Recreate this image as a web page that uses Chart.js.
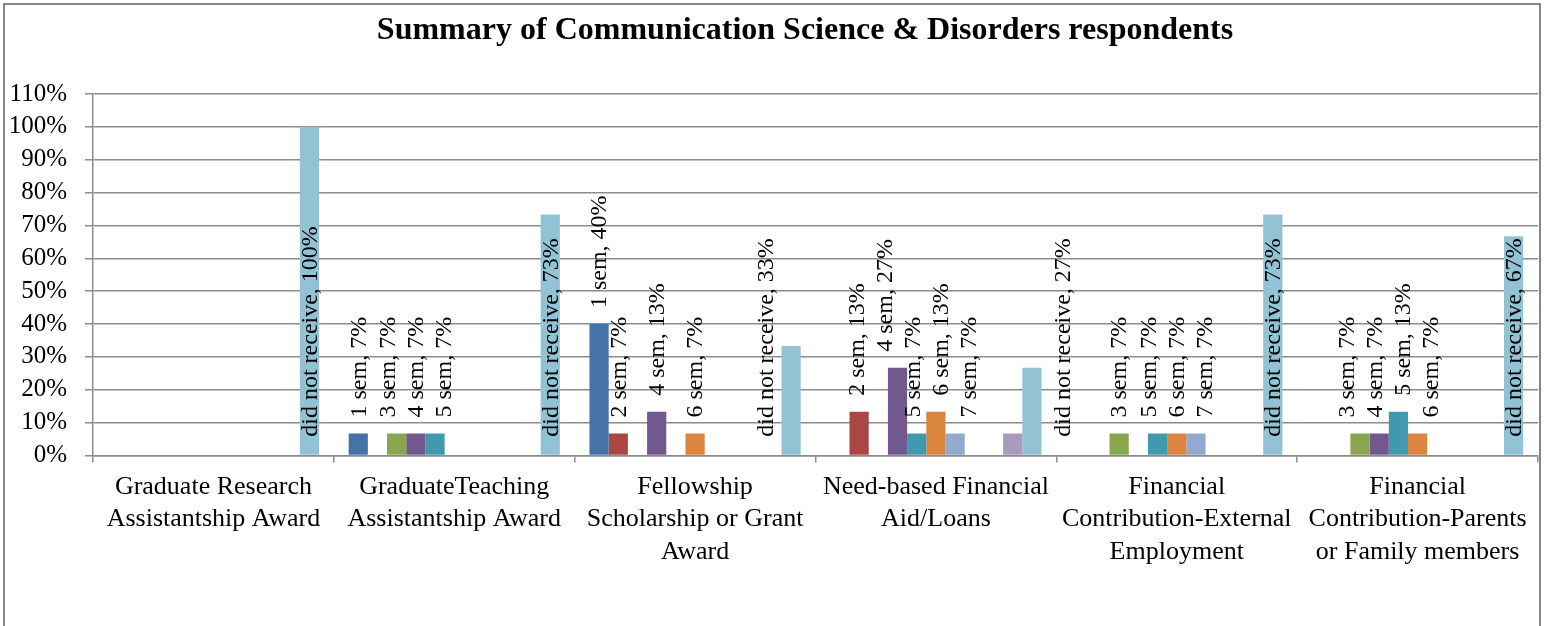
<!DOCTYPE html>
<html lang="en">
<head>
  <meta charset="UTF-8">
  <title>Summary of Communication Science &amp; Disorders respondents</title>
  <script src="https://cdn.jsdelivr.net/npm/chart.js"></script>
  <style>
    html, body { margin: 0; padding: 0; background: #fff; }
    #wrap { position: relative; width: 1546px; height: 626px; }
  </style>
</head>
<body>
  <div id="wrap"><canvas id="grafico"></canvas></div>

  <script>
    // categories (x axis), split into the lines shown under the axis
    const categories = [
      ['Graduate Research', 'Assistantship Award'],
      ['GraduateTeaching', 'Assistantship Award'],
      ['Fellowship', 'Scholarship or Grant', 'Award'],
      ['Need-based Financial', 'Aid/Loans'],
      ['Financial', 'Contribution-External', 'Employment'],
      ['Financial', 'Contribution-Parents', 'or Family members']
    ];

    // series values, % of respondents
    const sem1  = [0, 6.7, 40, 0, 0, 0];
    const sem2  = [0, 0, 6.7, 13.3, 0, 0];
    const sem3  = [0, 6.7, 0, 0, 6.7, 6.7];
    const sem4  = [0, 6.7, 13.3, 26.7, 0, 6.7];
    const sem5  = [0, 6.7, 0, 6.7, 6.7, 13.3];
    const sem6  = [0, 0, 6.7, 13.3, 6.7, 6.7];
    const sem7  = [0, 0, 0, 6.7, 6.7, 0];
    const sem8  = [0, 0, 0, 0, 0, 0];
    const sem9  = [0, 0, 0, 0, 0, 0];
    const sem10 = [0, 0, 0, 6.7, 0, 0];
    const notReceived = [100, 73.3, 33.3, 26.7, 73.3, 66.7];

    const seriesNames = ['1 sem', '2 sem', '3 sem', '4 sem', '5 sem', '6 sem',
                         '7 sem', '8 sem', '9 sem', '10 sem', 'did not receive'];
    const seriesValues = [sem1, sem2, sem3, sem4, sem5, sem6, sem7, sem8, sem9, sem10, notReceived];
    const seriesColors = ['#4572A7', '#AA4643', '#89A54E', '#71588F', '#4198AF', '#DB843D',
                          '#93A9D0', '#D09392', '#B9CD96', '#A99BBD', '#92C3D4'];

    // y axis tick labels: 0% .. 110%
    const yTicks = [0, 10, 20, 30, 40, 50, 60, 70, 80, 90, 100, 110];

    const FONT = '"Liberation Serif", "Times New Roman", serif';
    const hiddenLabels = ['10 sem'];
    const dnrShift = [0, 0, -25, 31, 0, 0];   // "did not receive" labels moved aside
    const LABEL_GAP = 28;

    // spread crowded labels of one category sideways, like the hand-placed ones
    function spread(items) {
      let clusters = items.sort((a, b) => a.x - b.x).map(it => [it]);
      const pos = c => {
        const m = c.reduce((s, it) => s + it.x, 0) / c.length;
        return c.map((it, i) => m + (i - (c.length - 1) / 2) * LABEL_GAP);
      };
      let merged = true;
      while (merged) {
        merged = false;
        for (let k = 0; k < clusters.length - 1; k++) {
          const a = clusters[k], b = clusters[k + 1];
          const la = a[a.length - 1], fb = b[0];
          const vOverlap = la.top < fb.bottom && fb.top < la.bottom;
          if (vOverlap && pos(a)[a.length - 1] + LABEL_GAP > pos(b)[0]) {
            clusters.splice(k, 2, a.concat(b));
            merged = true;
            break;
          }
        }
      }
      clusters.forEach(c => pos(c).forEach((x, i) => { c[i].lx = x; }));
    }

    const barLabels = {
      id: 'barLabels',
      afterDatasetsDraw(chart) {
        const ctx = chart.ctx;
        ctx.save();
        ctx.font = '24px ' + FONT;
        ctx.fillStyle = '#000';
        ctx.textAlign = 'left';
        ctx.textBaseline = 'middle';
        const groups = categories.map(() => []);
        chart.data.datasets.forEach((ds, i) => {
          if (hiddenLabels.includes(ds.label)) return;
          chart.getDatasetMeta(i).data.forEach((bar, j) => {
            const v = ds.data[j];
            if (!v) return;
            const text = ds.label + ', ' + Math.round(v) + '%';
            const w = ctx.measureText(text).width;
            if (ds.label === 'did not receive') {
              groups[j].push({ text, x: bar.x, lx: bar.x + dnrShift[j], y: bar.base - 18, fixed: true });
            } else {
              const y = bar.y - 16;
              groups[j].push({ text, x: bar.x, lx: bar.x, y, top: y - w, bottom: y });
            }
          });
        });
        groups.forEach(g => {
          spread(g.filter(it => !it.fixed));
          g.forEach(it => {
            ctx.save();
            ctx.translate(it.lx, it.y);
            ctx.rotate(-Math.PI / 2);
            ctx.fillText(it.text, 0, 1);
            ctx.restore();
          });
        });
        ctx.restore();
      }
    };

    const frameAndTitle = {
      id: 'frameAndTitle',
      afterDraw(chart) {
        const ctx = chart.ctx;
        ctx.save();
        ctx.strokeStyle = '#868686';
        ctx.lineWidth = 2;
        ctx.strokeRect(4, 4, 1536, 700);
        ctx.font = 'bold 32px ' + FONT;
        ctx.fillStyle = '#000';
        ctx.textAlign = 'center';
        ctx.textBaseline = 'alphabetic';
        ctx.fillText('Summary of Communication Science & Disorders respondents', 805, 39);
        ctx.restore();
      }
    };

    const ctx = document.getElementById('grafico').getContext('2d');
    new Chart(ctx, {
      type: 'bar',
      data: {
        labels: categories,
        datasets: seriesNames.map((name, i) => ({
          label: name,
          data: seriesValues[i],
          backgroundColor: seriesColors[i],
          borderWidth: 0,
          categoryPercentage: 0.877,
          barPercentage: 1
        }))
      },
      options: {
        responsive: true,
        maintainAspectRatio: false,
        animation: false,
        layout: { padding: { top: 94, left: 7, right: 8, bottom: 50 } },
        plugins: {
          legend: { display: false },
          title: { display: false },
          tooltip: { enabled: false }
        },
        scales: {
          x: {
            afterFit: axis => { axis.paddingLeft = 0; axis.paddingRight = 0; },
            grid: { drawOnChartArea: false, offset: true, tickLength: 7, color: '#8c8c8c', lineWidth: 1.5 },
            border: { color: '#8c8c8c', width: 1.5 },
            ticks: {
              color: '#000',
              font: { family: FONT, size: 26, lineHeight: 1.25 },
              padding: 8,
              maxRotation: 0,
              autoSkip: false
            }
          },
          y: {
            min: 0,
            max: 110,
            afterBuildTicks: axis => { axis.ticks = yTicks.map(v => ({ value: v })); },
            afterFit: axis => { axis.width = 86; },
            grid: { color: '#8c8c8c', lineWidth: 1.5, tickLength: 8 },
            border: { color: '#8c8c8c', width: 1.5 },
            ticks: {
              color: '#000',
              font: { family: FONT, size: 25 },
              padding: 18,
              autoSkip: false,
              callback: v => v + '%'
            }
          }
        }
      },
      plugins: [barLabels, frameAndTitle]
    });
  </script>
</body>
</html>
